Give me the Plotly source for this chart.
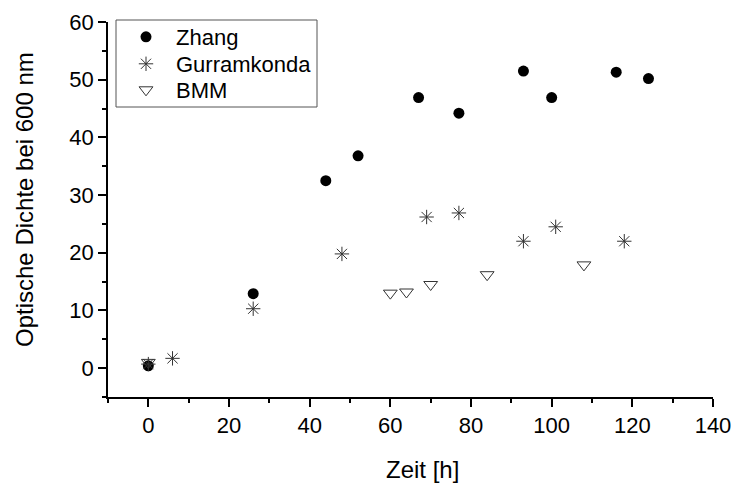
import plotly.graph_objects as go

zhang_t = [0, 26, 44, 52, 67, 77, 93, 100, 116, 124]
zhang_od = [0.4, 12.9, 32.5, 36.8, 46.9, 44.2, 51.5, 46.9, 51.3, 50.2]

gurr_t = [0, 6, 26, 48, 69, 77, 93, 101, 118]
gurr_od = [0.7, 1.7, 10.3, 19.8, 26.2, 26.9, 22.0, 24.5, 22.0]

bmm_t = [0, 60, 64, 70, 84, 108]
bmm_od = [1.0, 13.0, 13.2, 14.5, 16.2, 17.9]

x_ticks = [0, 20, 40, 60, 80, 100, 120, 140]
y_ticks = [0, 10, 20, 30, 40, 50, 60]

FONT = "Liberation Sans, Arial, sans-serif"

# plot area in pixels
L, R, T, B = 108, 22, 22, 87
W, H = 735, 484
pw = W - L - R
ph = H - T - B


def px_x(x):
    return (x - L) / pw


def px_y(y):
    return (H - B - y) / ph


fig = go.Figure()
fig.add_trace(go.Scatter(
    x=zhang_t, y=zhang_od, mode="markers", name="Zhang", legend="legend",
    marker=dict(symbol="circle", size=11, color="black", line=dict(width=0)),
))
fig.add_trace(go.Scatter(
    x=gurr_t, y=gurr_od, mode="markers", name="Gurramkonda", legend="legend2",
    marker=dict(symbol="asterisk-open", size=12, color="#333333",
                line=dict(width=1, color="#333333")),
))
fig.add_trace(go.Scatter(
    x=bmm_t, y=bmm_od, mode="markers", name="BMM", legend="legend3",
    marker=dict(symbol="triangle-down-open", size=12, color="#333333",
                line=dict(width=1, color="#333333")),
))

axis_common = dict(
    showline=True, linecolor="black", linewidth=1.5,
    ticks="outside", ticklen=8, tickwidth=1.5, tickcolor="black",
    showgrid=False, zeroline=False, mirror=False, automargin=False,
    tickfont=dict(family=FONT, size=22, color="black"),
)


def leg(row_y):
    return dict(
        x=px_x(116), y=px_y(row_y), xanchor="left", yanchor="middle",
        borderwidth=0, bgcolor="rgba(0,0,0,0)",
        font=dict(family=FONT, size=22, color="black"),
        itemsizing="trace", itemwidth=50,
    )


fig.update_layout(
    width=W, height=H,
    margin=dict(l=L, r=R, t=T, b=B),
    paper_bgcolor="white", plot_bgcolor="white",
    font=dict(family=FONT, size=22, color="black"),
    showlegend=True,
    legend=leg(37),
    legend2=leg(64),
    legend3=leg(90),
    xaxis=dict(
        range=[-10, 140], tickvals=x_ticks,
        minor=dict(ticks="outside", ticklen=4, tickwidth=1.5, tickcolor="black", dtick=10, tick0=0),
        **axis_common,
    ),
    yaxis=dict(
        range=[-5, 60], tickvals=y_ticks,
        minor=dict(ticks="outside", ticklen=4, tickwidth=1.5, tickcolor="black", dtick=5, tick0=0),
        **axis_common,
    ),
    shapes=[
        dict(type="rect", xref="paper", yref="paper",
             x0=px_x(116), x1=px_x(317), y0=px_y(107), y1=px_y(20),
             line=dict(color="#555555", width=1), fillcolor="white", layer="below"),
    ],
    annotations=[
        dict(text="Zeit [h]", xref="paper", yref="paper",
             x=px_x(422), y=px_y(470), xanchor="center", yanchor="middle",
             showarrow=False, font=dict(family=FONT, size=24, color="black")),
        dict(text="Optische Dichte bei 600 nm", textangle=-90,
             xref="paper", yref="paper",
             x=px_x(24), y=px_y(200), xanchor="center", yanchor="middle",
             showarrow=False, font=dict(family=FONT, size=24, color="black")),
    ],
)

fig.write_html("out.html")
